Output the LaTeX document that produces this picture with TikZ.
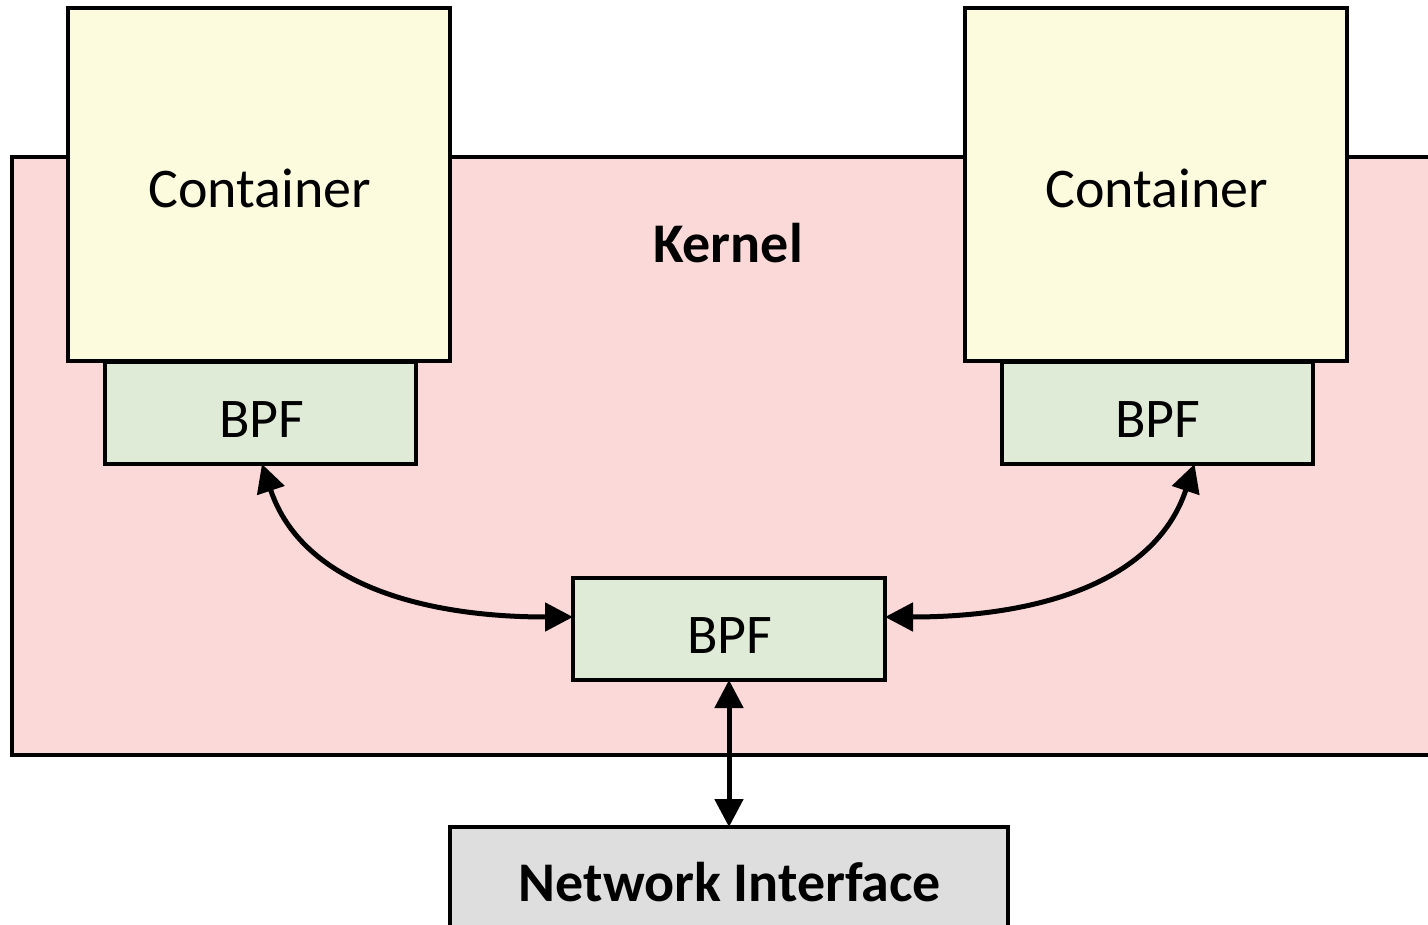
\documentclass[tikz,border=0pt]{standalone}
\usepackage{fontspec}
\setmainfont{Carlito}
\usetikzlibrary{arrows.meta}
\definecolor{kernelpink}{RGB}{252,217,217}
\definecolor{contyellow}{RGB}{252,251,222}
\definecolor{bpfgreen}{RGB}{223,235,214}
\definecolor{nicgray}{RGB}{222,222,222}
\begin{document}
\begin{tikzpicture}[x=1pt,y=-1pt,
  box/.style={draw=black, line width=3.5pt, inner sep=0pt, outer sep=0pt, anchor=north west},
  txt/.style={anchor=base, inner sep=0pt, font=\fontsize{56}{64}\selectfont},
  tip/.tip={Triangle[length=28pt,width=28pt]},
  link/.style={line width=5pt, tip-tip}]
\useasboundingbox (0,0) rectangle (1428,925);
\clip (0,0) rectangle (1428,925);

% kernel area, running off the right edge
\node[box, fill=kernelpink, minimum width=1440, minimum height=598] (kernel) at (12,157) {};

% containers sit on top of the kernel border
\node[box, fill=contyellow, minimum width=382, minimum height=353] (lc) at (68,8) {};
\node[box, fill=contyellow, minimum width=382, minimum height=353] (rc) at (965,8) {};

% BPF programs
\node[box, fill=bpfgreen, minimum width=311, minimum height=102] (lbpf) at (105,362) {};
\node[box, fill=bpfgreen, minimum width=311, minimum height=102] (rbpf) at (1002,362) {};
\node[box, fill=bpfgreen, minimum width=312, minimum height=102] (cbpf) at (573,578) {};

% network interface
\node[box, fill=nicgray, minimum width=558, minimum height=130] (nic) at (450,827) {};

% labels
\node[txt] (lctext) at (260,208) {Container};
\node[txt] (rctext) at (1157,208) {Container};
\node[txt, font=\fontsize{56}{64}\selectfont\bfseries] (ktext) at (728,263) {Kernel};
\node[txt] (lbtext) at (262,437) {BPF};
\node[txt] (rbtext) at (1158,437) {BPF};
\node[txt] (cbtext) at (730,653) {BPF};
\node[txt, font=\fontsize{56}{64}\selectfont\bfseries] (ntext) at (730,901) {Network Interface};

% connectors
\draw[link] ([xshift=1.5pt]lbpf.south) .. controls +(40,120) and +(-150,0) .. ([yshift=12pt]cbpf.west);
\draw[link] ([xshift=37pt]rbpf.south) .. controls +(-40,120) and +(150,0) .. ([yshift=12pt]cbpf.east);
\draw[link] (cbpf.south) -- (nic.north);
\end{tikzpicture}
\end{document}
